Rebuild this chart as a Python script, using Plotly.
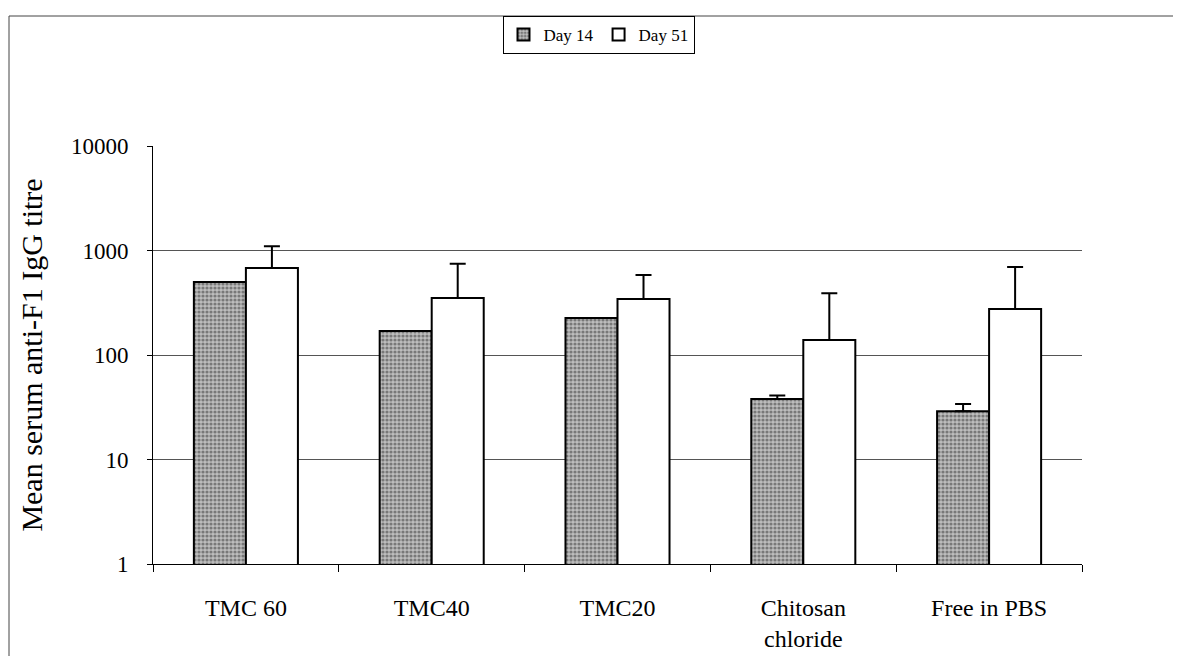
import plotly.graph_objects as go

categories = ["TMC 60", "TMC40", "TMC20", "Chitosan<br>chloride", "Free in PBS"]
day14 = [500, 170, 226, 38, 29]
day14_err = [0, 0, 0, 3, 5]
day51 = [680, 351, 344, 139, 275]
day51_err = [420, 394, 239, 251, 420]
tick_vals = [1, 10, 100, 1000, 10000]
tick_text = ["1", "10", "100", "1000", "10000"]
grid_vals = [10, 100, 1000]

FONT = "Liberation Serif, Times New Roman, serif"

fig = go.Figure()
fig.add_trace(go.Bar(
    x=categories, y=day14, name="Day 14",
    marker=dict(color="#a8a8a8", line=dict(color="black", width=2),
                pattern=dict(shape=".", fgcolor="#333333", bgcolor="#bdbdbd", size=4, solidity=0.5)),
    error_y=dict(type="data", array=day14_err, arrayminus=[0]*5, symmetric=False,
                 color="black", thickness=2, width=8),
))
fig.add_trace(go.Bar(
    x=categories, y=day51, name="Day 51",
    marker=dict(color="white", line=dict(color="black", width=2)),
    error_y=dict(type="data", array=day51_err, arrayminus=[0]*5, symmetric=False,
                 color="black", thickness=2, width=8),
))
# invisible trace for gridline overlay axis
fig.add_trace(go.Scatter(x=[categories[0]], y=[1], yaxis="y2", mode="markers",
                         marker=dict(opacity=0), showlegend=False, hoverinfo="skip"))

fig.update_layout(
    width=1181, height=656,
    paper_bgcolor="white", plot_bgcolor="white",
    margin=dict(l=145, r=107, t=138, b=100, autoexpand=False),
    barmode="group", bargap=0.44, bargroupgap=0,
    font=dict(family=FONT, color="black", size=20),
    showlegend=True,
    legend=dict(orientation="h", xref="container", yref="container", x=0.5, y=0.988,
                xanchor="center", yanchor="top",
                bordercolor="black", borderwidth=1, font=dict(size=17, family=FONT),
                itemwidth=30, tracegroupgap=0),
    xaxis=dict(showline=True, linecolor="black", linewidth=1, ticks="outside",
               tickson="boundaries", ticklen=7, tickcolor="black", ticklabelstandoff=22,
               tickfont=dict(size=24, family=FONT), showgrid=False),
    yaxis=dict(type="log", range=[0, 4], tickvals=tick_vals, ticktext=tick_text,
               showline=True, linecolor="black", linewidth=1, ticks="outside",
               ticklen=5, tickcolor="black", showgrid=False, zeroline=False,
               ticklabelstandoff=14, tickfont=dict(size=23, family=FONT),
               title=dict(text="Mean serum anti-F1 IgG titre", font=dict(size=30, family=FONT),
                          standoff=19)),
    yaxis2=dict(type="log", range=[0, 4], overlaying="y", tickvals=grid_vals,
                showticklabels=False, ticks="", showgrid=True, gridcolor="#555",
                gridwidth=1, showline=False, zeroline=False),
    shapes=[dict(type="rect", xref="paper", yref="paper", x0=-0.155, x1=1.2, y0=-0.4, y1=1.311,
                 line=dict(color="#444", width=1), fillcolor="rgba(0,0,0,0)", layer="below")],
)

fig.write_html("out.html")
